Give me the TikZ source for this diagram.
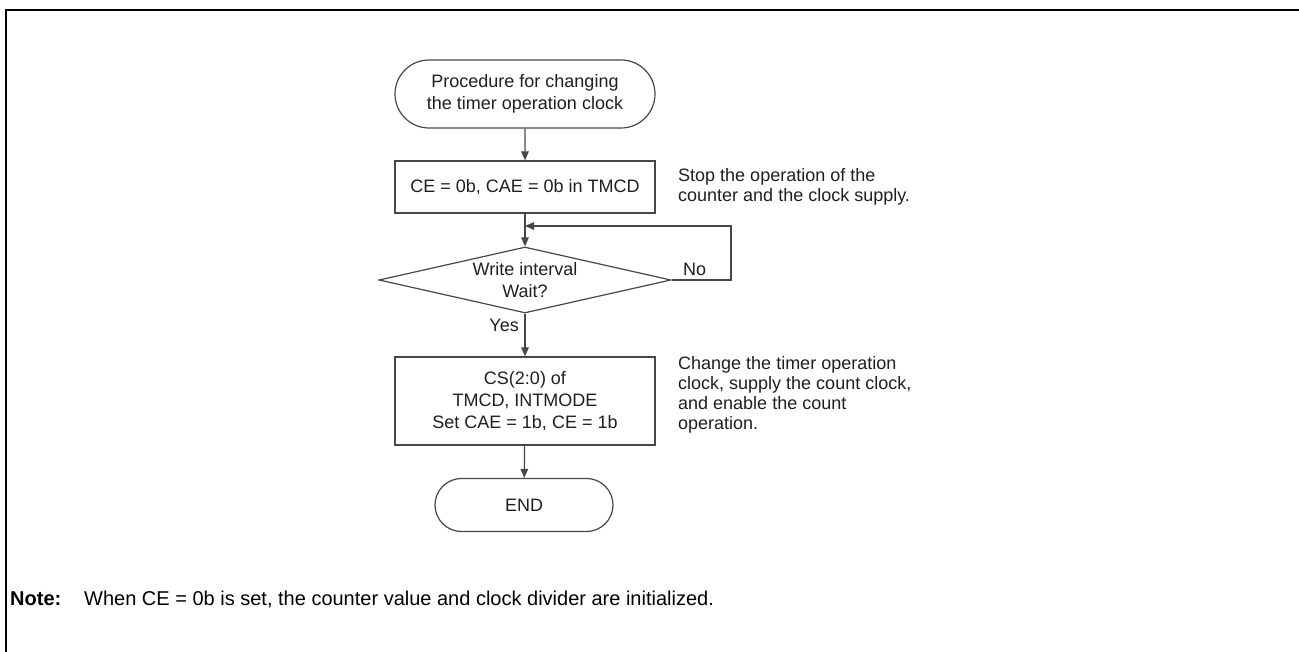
\documentclass[tikz,border=0pt]{standalone}
\usepackage{fontspec}
\setmainfont{Liberation Sans}
\usetikzlibrary{arrows.meta,shapes.geometric,shapes.misc}
\begin{document}
\begin{tikzpicture}[x=1pt,y=-1pt,
  line/.style={draw=black!72, line width=1.2pt},
  arr/.style={line, -{Triangle[length=9pt,width=7.5pt]}},
  boxfont/.style={font=\fontsize{18}{21.7}\selectfont, text=black!88},
  term/.style={line, boxfont, rounded rectangle, inner sep=0pt, align=center},
  proc/.style={line, boxfont, rectangle, inner sep=0pt, align=center},
  decis/.style={line, boxfont, diamond, aspect=4.4, inner sep=0pt, align=center},
  lbl/.style={boxfont, inner sep=0pt},
  annot/.style={font=\fontsize{18}{20}\selectfont, text=black!88, align=left, anchor=north west, inner sep=0pt},
  notefont/.style={font=\fontsize{20}{24}\selectfont, anchor=base west, inner sep=0pt},
  frame/.style={draw=black, line width=2pt}
]
\useasboundingbox (0,0) rectangle (1299,652);
% outer frame (top and left only)
\coordinate (fTR) at (1299,10);
\coordinate (fTL) at (6,10);
\coordinate (fBL) at (6,652);
\draw[frame] (fTR) -- (fTL) -- (fBL);

% nodes
\node[term, minimum width=260pt, minimum height=68pt] (start) at (525,94)
  {Procedure for changing\\the timer operation clock};
\node[proc, minimum width=260pt, minimum height=52pt] (b1) at (525,187)
  {CE = 0b, CAE = 0b in TMCD};
\node[decis, minimum width=292pt, minimum height=66pt] (d) at (525,280)
  {Write interval\\Wait?};
\node[proc, minimum width=260pt, minimum height=88pt] (b2) at (525,401)
  {CS(2:0) of\\TMCD, INTMODE\\Set CAE = 1b, CE = 1b};
\node[term, minimum width=178pt, minimum height=53pt] (end) at (524,505) {END};

% connectors
\draw[arr] (start) -- (b1);
\draw[arr] (b1) -- (d);
\coordinate (nr) at (731,280);
\coordinate (nt) at (731,226);
\coordinate (nj) at (525,226);
\draw[arr] (d.east) -- (nr) -- (nt) -- (nj);
\draw[arr] (d) -- (b2);
\draw[arr] (b2) -- (end);

% labels
\node[lbl, anchor=base west] (no) at (683,276) {No};
\node[lbl, anchor=base east] (yes) at (519,332) {Yes};

% annotations
\node[annot] (a1) at (678,168) {Stop the operation of the\\counter and the clock supply.};
\node[annot] (a2) at (678,356) {Change the timer operation\\clock, supply the count clock,\\and enable the count\\operation.};

% note
\node[notefont] (note) at (10,605) {\bfseries Note:};
\node[notefont] (notetext) at (84,605)
  {When CE = 0b is set, the counter value and clock divider are initialized.};
\end{tikzpicture}
\end{document}
